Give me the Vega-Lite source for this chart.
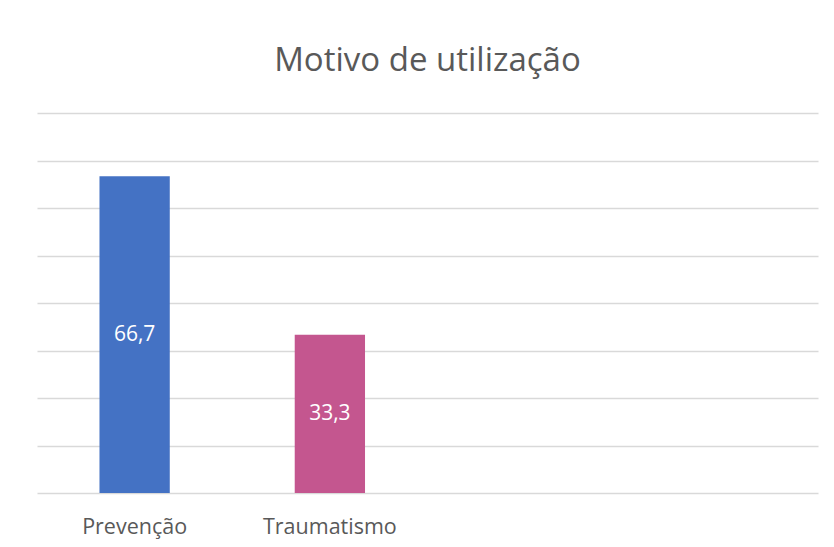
{
  "$schema": "https://vega.github.io/schema/vega-lite/v6.json",
  "width": 781,
  "height": 380,
  "autosize": "none",
  "padding": {"left": 37, "top": 113, "right": 16, "bottom": 54},
  "background": "white",
  "config": {
    "view": {"stroke": null},
    "font": "Open Sans",
    "locale": {"number": {"decimal": ",", "thousands": ".", "grouping": [3], "currency": ["", " €"]}}
  },
  "title": {
    "text": "Motivo de utilização",
    "fontSize": 33,
    "font": "Open Sans",
    "fontWeight": "normal",
    "color": "#595959",
    "anchor": "middle",
    "baseline": "alphabetic",
    "offset": 9
  },
  "data": {
    "values": [
      {"motivo": "Prevenção", "valor": 66.7},
      {"motivo": "Traumatismo", "valor": 33.3}
    ]
  },
  "encoding": {
    "x": {
      "field": "motivo",
      "type": "nominal",
      "sort": null,
      "scale": {"domain": ["Prevenção", "Traumatismo", "_c3", "_c4"], "paddingInner": 0.64, "paddingOuter": 0.32},
      "axis": {
        "title": null,
        "labelAngle": 0,
        "labelFontSize": 21.5,
        "labelColor": "#595959",
        "labelFont": "Open Sans",
        "labelPadding": 23,
        "ticks": false,
        "domain": false,
        "labelExpr": "indexof(datum.value, '_c') == 0 ? '' : datum.label"
      }
    },
    "y": {
      "field": "valor",
      "type": "quantitative",
      "scale": {"domain": [0, 80], "nice": false},
      "axis": {
        "title": null,
        "labels": false,
        "ticks": false,
        "domain": false,
        "values": [0, 10, 20, 30, 40, 50, 60, 70, 80],
        "gridColor": "#D9D9D9",
        "gridWidth": 1.5
      }
    }
  },
  "layer": [
    {
      "mark": {"type": "bar"},
      "encoding": {
        "color": {
          "field": "motivo",
          "type": "nominal",
          "scale": {"domain": ["Prevenção", "Traumatismo"], "range": ["#4472C4", "#C4568F"]},
          "legend": null
        }
      }
    },
    {
      "transform": [{"calculate": "datum.valor / 2", "as": "meio"}],
      "mark": {"type": "text", "color": "white", "fontSize": 21, "font": "Open Sans", "baseline": "middle"},
      "encoding": {
        "y": {"field": "meio", "type": "quantitative"},
        "text": {"field": "valor", "type": "quantitative", "format": ".1f"}
      }
    }
  ]
}
